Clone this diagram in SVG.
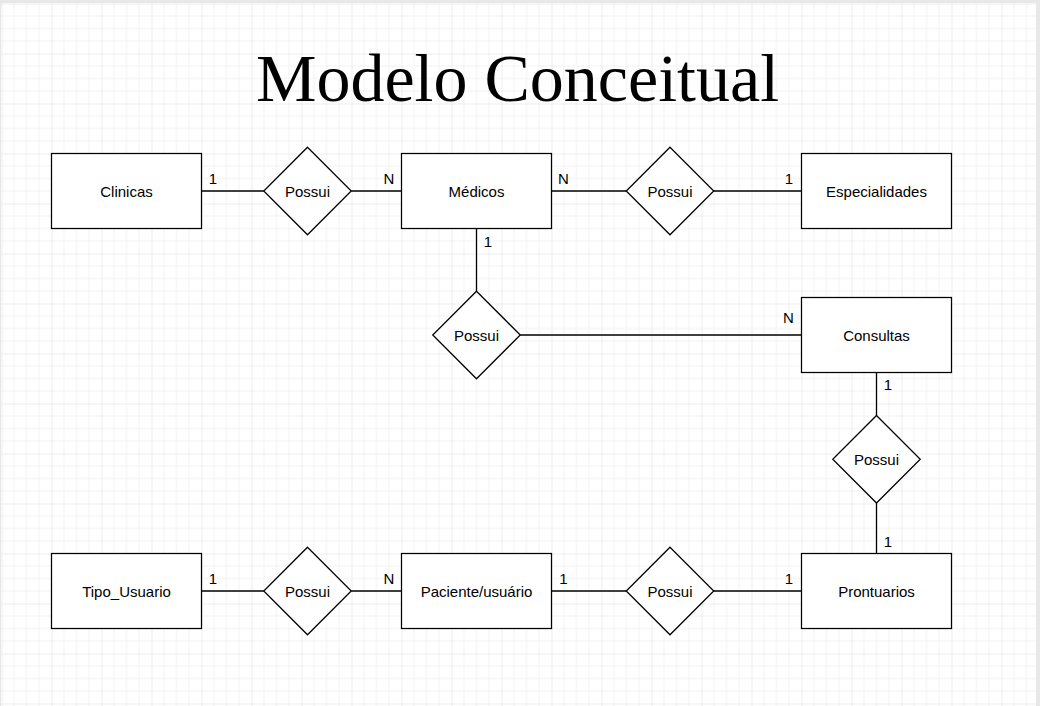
<svg xmlns="http://www.w3.org/2000/svg" width="1040" height="706" viewBox="0 0 1040 706">
<style>
.ent{fill:#fff;stroke:#000;stroke-width:1.25}
.rel{fill:#fff;stroke:#000;stroke-width:1.25}
.lbl{font-family:"Liberation Sans",Arial,sans-serif;font-size:15px;fill:#000;text-anchor:middle}
.card{font-family:"Liberation Sans",Arial,sans-serif;font-size:15px;fill:#000;text-anchor:middle}
.con line{stroke:#000;stroke-width:1.3;fill:none}
.title{font-family:"Liberation Serif","Times New Roman",serif;font-size:68px;fill:#000;text-anchor:middle}
</style>
<defs>
<pattern id="grid" patternUnits="userSpaceOnUse" x="1.5" y="3.5" width="50" height="50">
<rect width="50" height="50" fill="#fff"/>
<g stroke="#f2f2f2" stroke-width="1">
<line x1="12.5" y1="0" x2="12.5" y2="50"/><line x1="25" y1="0" x2="25" y2="50"/><line x1="37.5" y1="0" x2="37.5" y2="50"/>
<line x1="0" y1="12.5" x2="50" y2="12.5"/><line x1="0" y1="25" x2="50" y2="25"/><line x1="0" y1="37.5" x2="50" y2="37.5"/>
</g>
<g stroke="#dcdcdc" stroke-width="1">
<line x1="0" y1="0" x2="0" y2="50"/><line x1="0" y1="0" x2="50" y2="0"/>
</g>
</pattern>
</defs>
<rect x="0" y="0" width="1040" height="706" fill="#e8e8e8"/>
<rect x="1" y="3" width="1035" height="703" fill="url(#grid)"/>

<text class="title" x="517.5" y="101">Modelo Conceitual</text>

<g id="connectors" class="con">
<line x1="201.5" y1="191" x2="263.75" y2="191"/>
<line x1="351.25" y1="191" x2="401.5" y2="191"/>
<line x1="551.5" y1="191" x2="626.25" y2="191"/>
<line x1="713.75" y1="191" x2="801.5" y2="191"/>
<line x1="476.5" y1="228.5" x2="476.5" y2="291.25"/>
<line x1="520.25" y1="335" x2="801.5" y2="335"/>
<line x1="876.5" y1="372.5" x2="876.5" y2="415.5"/>
<line x1="876.5" y1="503" x2="876.5" y2="553.5"/>
<line x1="201.5" y1="591" x2="263.75" y2="591"/>
<line x1="351.25" y1="591" x2="401.5" y2="591"/>
<line x1="551.5" y1="591" x2="626.25" y2="591"/>
<line x1="713.75" y1="591" x2="801.5" y2="591"/>
</g>

<g id="card-labels">
<text class="card" x="213" y="184">1</text>
<text class="card" x="389" y="184">N</text>
<text class="card" x="563.5" y="184">N</text>
<text class="card" x="789" y="184">1</text>
<text class="card" x="488" y="246.5">1</text>
<text class="card" x="788.5" y="322.5">N</text>
<text class="card" x="888" y="389.5">1</text>
<text class="card" x="888" y="547">1</text>
<text class="card" x="213" y="584">1</text>
<text class="card" x="389" y="584">N</text>
<text class="card" x="563.5" y="584">1</text>
<text class="card" x="789" y="584">1</text>
</g>

<g id="clinicas"><rect class="ent" x="51.5" y="153.5" width="150" height="75"/><text class="lbl" x="126.5" y="196.5">Clinicas</text></g>
<g id="medicos"><rect class="ent" x="401.5" y="153.5" width="150" height="75"/><text class="lbl" x="476.5" y="196.5">Médicos</text></g>
<g id="especialidades"><rect class="ent" x="801.5" y="153.5" width="150" height="75"/><text class="lbl" x="876.5" y="196.5">Especialidades</text></g>
<g id="consultas"><rect class="ent" x="801.5" y="297.5" width="150" height="75"/><text class="lbl" x="876.5" y="340.5">Consultas</text></g>
<g id="tipo-usuario"><rect class="ent" x="51.5" y="553.5" width="150" height="75"/><text class="lbl" x="126.5" y="596.5">Tipo_Usuario</text></g>
<g id="paciente"><rect class="ent" x="401.5" y="553.5" width="150" height="75"/><text class="lbl" x="476.5" y="596.5">Paciente/usuário</text></g>
<g id="prontuarios"><rect class="ent" x="801.5" y="553.5" width="150" height="75"/><text class="lbl" x="876.5" y="596.5">Prontuarios</text></g>

<g id="rel-clinicas-medicos"><polygon class="rel" points="307.5,147.25 351.25,191 307.5,234.75 263.75,191"/><text class="lbl" x="307.5" y="196.5">Possui</text></g>
<g id="rel-medicos-especialidades"><polygon class="rel" points="670,147.25 713.75,191 670,234.75 626.25,191"/><text class="lbl" x="670" y="196.5">Possui</text></g>
<g id="rel-medicos-consultas"><polygon class="rel" points="476.5,291.25 520.25,335 476.5,378.75 432.75,335"/><text class="lbl" x="476.5" y="340.5">Possui</text></g>
<g id="rel-consultas-prontuarios"><polygon class="rel" points="876.5,415.5 920.25,459.25 876.5,503 832.75,459.25"/><text class="lbl" x="876.5" y="464.75">Possui</text></g>
<g id="rel-tipo-paciente"><polygon class="rel" points="307.5,547.25 351.25,591 307.5,634.75 263.75,591"/><text class="lbl" x="307.5" y="596.5">Possui</text></g>
<g id="rel-paciente-prontuarios"><polygon class="rel" points="670,547.25 713.75,591 670,634.75 626.25,591"/><text class="lbl" x="670" y="596.5">Possui</text></g>
</svg>
